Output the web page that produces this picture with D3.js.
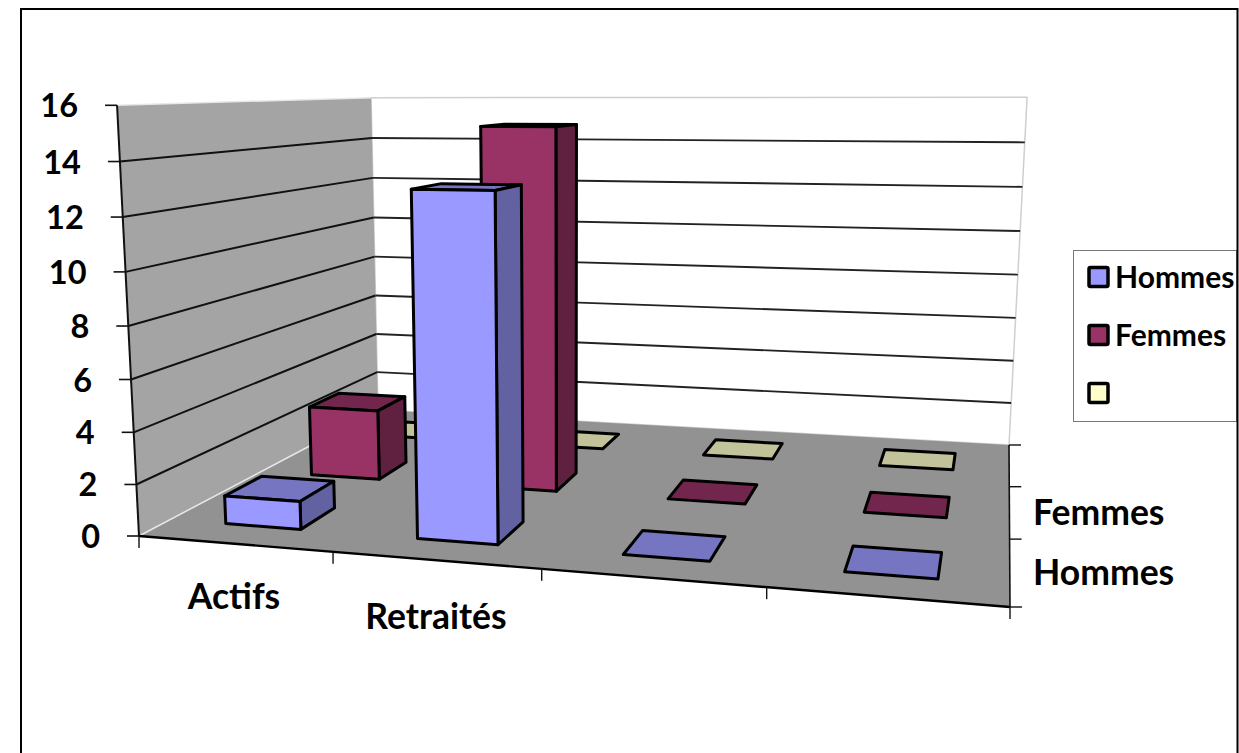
<!DOCTYPE html>
<html>
<head>
<meta charset="utf-8">
<script src="https://cdn.jsdelivr.net/npm/d3@7"></script>
<style>
html, body { margin: 0; padding: 0; background: #fff; }
svg { display: block; }
text { font-family: Lato, "Open Sans", sans-serif; font-weight: 700; fill: #000; }
</style>
</head>
<body>
<div id="viz"></div>
<script>
// data
const categories = ["Actifs", "Retraités", " ", "  "];
const seriesNames = ["Hommes", "Femmes", ""];
const hommes = [1.1, 13, 0, 0];
const femmes = [3, 15, 0, 0];
const vide = [0, 0, 0, 0];
const yTicks = [0, 2, 4, 6, 8, 10, 12, 14, 16];

const seriesValues = [hommes, femmes, vide];
const frontColors = ["#9999ff", "#993366", "#ffffcc"];
const topColors = ["#7575c2", "#73264d", "#c2c29b"];
const sideColors = ["#6262a3", "#602040", "#a3a380"];

const width = 1239, height = 753;

const svg = d3.select("#viz").append("svg")
    .attr("width", width)
    .attr("height", height);

// scales: everything lives in a unit cube, then gets projected
const x = d3.scaleBand().domain(categories).range([0, 1]);
const z = d3.scaleBand().domain(seriesNames).range([0, 1]);
const y = d3.scaleLinear().domain([0, 16]).range([0, 1]);

// floor corners on screen, used for the perspective
const quad = [[139, 536], [1010, 607], [1009, 445], [378, 410]];
const vertVanish = [567, 8936];

const [[x0, y0], [x1, y1], [x2, y2], [x3, y3]] = quad;
const dx1 = x1 - x2, dx2 = x3 - x2, sx = x0 - x1 + x2 - x3;
const dy1 = y1 - y2, dy2 = y3 - y2, sy = y0 - y1 + y2 - y3;
const den = dx1 * dy2 - dx2 * dy1;
const g = (sx * dy2 - dx2 * sy) / den;
const h = (dx1 * sy - sx * dy1) / den;
const a = x1 - x0 + g * x1, b = x3 - x0 + h * x3, c = x0;
const d = y1 - y0 + g * y1, e = y3 - y0 + h * y3, f = y0;

function floorPoint(u, v) {
    return [a * u + b * v + c, d * u + e * v + f, g * u + h * v + 1];
}

// how far the top of the box goes toward the vanishing point, from 3 known corners
function heightFrom(u, v, targetY) {
    const p = floorPoint(u, v);
    return (targetY * p[2] - p[1]) / (vertVanish[1] - targetY);
}
const topT = d3.mean([heightFrom(0, 0, 104), heightFrom(0, 1, 98), heightFrom(1, 1, 98)]);

function project(u, w, v) {
    const p = floorPoint(u, v);
    const t = topT * w;
    const W = p[2] + t;
    return [(p[0] + t * vertVanish[0]) / W, (p[1] + t * vertVanish[1]) / W];
}

const line = d3.line();
function poly(points) { return line(points) + "Z"; }

function drawFace(points, fill, stroke, strokeWidth) {
    svg.append("path")
        .attr("d", poly(points))
        .attr("fill", fill)
        .attr("stroke", stroke)
        .attr("stroke-width", strokeWidth)
        .attr("stroke-linejoin", "round");
}

function drawLine(p, q, color, w) {
    svg.append("line")
        .attr("x1", p[0]).attr("y1", p[1])
        .attr("x2", q[0]).attr("y2", q[1])
        .attr("stroke", color)
        .attr("stroke-width", w);
}

// walls and floor
drawFace([project(0, 0, 1), project(1, 0, 1), project(1, 1, 1), project(0, 1, 1)], "#fff", "#cfcfcf", 1.5);
drawFace([project(0, 0, 0), project(0, 0, 1), project(0, 1, 1), project(0, 1, 0)], "#a4a4a4", "none", 0);
drawFace(quad, "#929292", "none", 0);
drawLine(project(0, 0, 0), project(0, 0, 1), "#e8e8e8", 1.5);
drawLine(project(0, 1, 0), project(0, 1, 1), "#e8e8e8", 1.5);

// gridlines on both walls
yTicks.filter(t => t > 0 && t < 16).forEach(t => {
    const w = y(t);
    drawLine(project(0, w, 0), project(0, w, 1), "#111", 2);
    drawLine(project(0, w, 1), project(1, w, 1), "#222", 1.9);
});

// value axis
drawLine(project(0, 0, 0), project(0, 1, 0), "#111", 2);
yTicks.forEach(t => {
    const p = project(0, y(t), 0);
    drawLine([p[0] - 12, p[1]], p, "#111", 1.6);
    svg.append("text")
        .attr("x", p[0] - 39)
        .attr("y", p[1] + 12)
        .attr("text-anchor", "end")
        .attr("font-size", 32.5)
        .text(t);
});

// category axis
drawLine(project(0, 0, 0), project(1, 0, 0), "#000", 2.4);
d3.range(categories.length + 1).forEach(i => {
    const p = project(i / categories.length, 0, 0);
    drawLine(p, [p[0], p[1] + 12], "#111", 1.4);
});

// depth axis
drawLine(project(1, 0, 0), project(1, 0, 1), "#111", 1.6);
d3.range(seriesNames.length + 1).forEach(i => {
    const p = project(1, 0, i / seriesNames.length);
    drawLine(p, [p[0] + 12, p[1]], "#111", 1.4);
});

// bars, back row first so the front row covers it
const barPad = 0.3;
const outline = 3;
d3.range(seriesNames.length).reverse().forEach(s => {
    const v0 = z(seriesNames[s]) + z.bandwidth() * barPad;
    const v1 = z(seriesNames[s]) + z.bandwidth() * (1 - barPad);
    seriesValues[s].forEach((val, i) => {
        const u0 = x(categories[i]) + x.bandwidth() * barPad;
        const u1 = x(categories[i]) + x.bandwidth() * (1 - barPad);
        const w = y(val);
        drawFace([project(u0, w, v0), project(u1, w, v0), project(u1, w, v1), project(u0, w, v1)],
            topColors[s], "#000", outline);
        if (val > 0) {
            drawFace([project(u1, 0, v0), project(u1, 0, v1), project(u1, w, v1), project(u1, w, v0)],
                sideColors[s], "#000", outline);
            drawFace([project(u0, 0, v0), project(u1, 0, v0), project(u1, w, v0), project(u0, w, v0)],
                frontColors[s], "#000", outline);
        }
    });
});

// axis labels
const catLabelPos = [[234, 609], [436, 629]];
catLabelPos.forEach((pos, i) => {
    svg.append("text")
        .attr("x", pos[0])
        .attr("y", pos[1])
        .attr("text-anchor", "middle")
        .attr("font-size", 35.5)
        .text(categories[i]);
});
const depthLabelPos = [[1033, 585], [1033, 525]];
depthLabelPos.forEach((pos, i) => {
    svg.append("text")
        .attr("x", pos[0])
        .attr("y", pos[1])
        .attr("font-size", 35.5)
        .text(seriesNames[i]);
});

// legend
svg.append("rect")
    .attr("x", 1073.5).attr("y", 250.5)
    .attr("width", 163).attr("height", 171)
    .attr("fill", "#fff")
    .attr("stroke", "#777")
    .attr("stroke-width", 1);

const legendY = d3.scalePoint().domain(seriesNames).range([277, 393]);
seriesNames.forEach((name, s) => {
    svg.append("rect")
        .attr("x", 1089)
        .attr("y", legendY(name) - 9.5)
        .attr("width", 19)
        .attr("height", 19)
        .attr("rx", 1.5)
        .attr("fill", frontColors[s])
        .attr("stroke", "#000")
        .attr("stroke-width", 3.5);
    svg.append("text")
        .attr("x", 1115)
        .attr("y", legendY(name) + 10.5)
        .attr("font-size", 30)
        .text(name);
});

// outer frame, open at the bottom
svg.append("path")
    .attr("d", line([[21, 753], [21, 9], [1237.5, 9], [1237.5, 753]]))
    .attr("fill", "none")
    .attr("stroke", "#000")
    .attr("stroke-width", 2);
</script>
</body>
</html>
